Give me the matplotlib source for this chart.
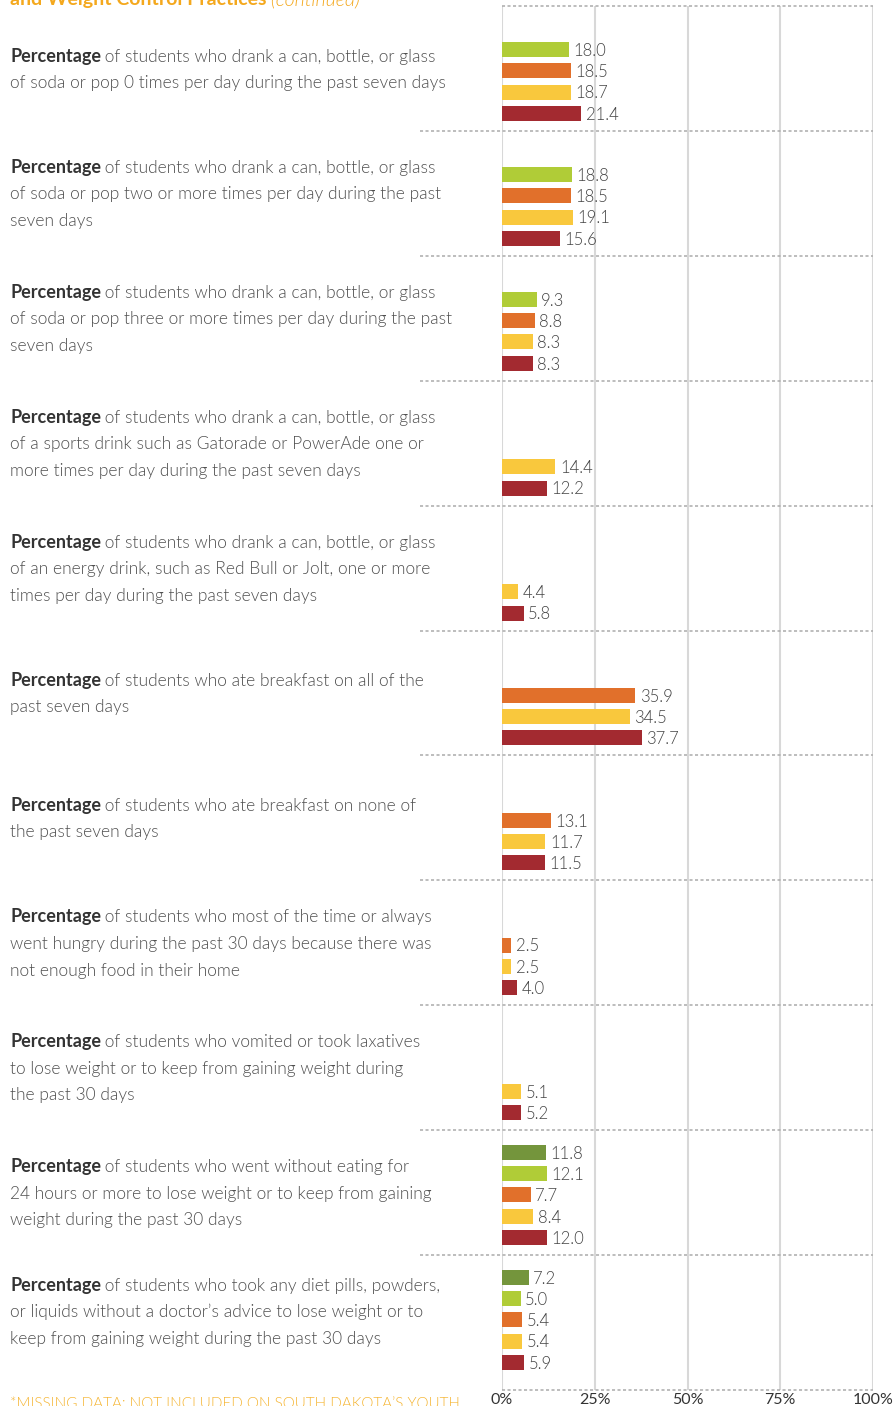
import matplotlib
matplotlib.use("Agg")
import matplotlib.pyplot as plt
import matplotlib.transforms as mtransforms

plt.rcParams['font.family'] = ['Lato', 'DejaVu Sans']

# one entry per question, each as the wrapped lines shown in the chart
labels = [
    ["Percentage of students who drank a can, bottle, or glass",
     "of soda or pop 0 times per day during the past seven days"],
    ["Percentage of students who drank a can, bottle, or glass",
     "of soda or pop two or more times per day during the past",
     "seven days"],
    ["Percentage of students who drank a can, bottle, or glass",
     "of soda or pop three or more times per day during the past",
     "seven days"],
    ["Percentage of students who drank a can, bottle, or glass",
     "of a sports drink such as Gatorade or PowerAde one or",
     "more times per day during the past seven days"],
    ["Percentage of students who drank a can, bottle, or glass",
     "of an energy drink, such as Red Bull or Jolt, one or more",
     "times per day during the past seven days"],
    ["Percentage of students who ate breakfast on all of the",
     "past seven days"],
    ["Percentage of students who ate breakfast on none of",
     "the past seven days"],
    ["Percentage of students who most of the time or always",
     "went hungry during the past 30 days because there was",
     "not enough food in their home"],
    ["Percentage of students who vomited or took laxatives",
     "to lose weight or to keep from gaining weight during",
     "the past 30 days"],
    ["Percentage of students who went without eating for",
     "24 hours or more to lose weight or to keep from gaining",
     "weight during the past 30 days"],
    ["Percentage of students who took any diet pills, powders,",
     "or liquids without a doctor\u2019s advice to lose weight or to",
     "keep from gaining weight during the past 30 days"],
]

# five survey series, oldest first (None = missing)
vals_1 = [None, None, None, None, None, None, None, None, None, 11.8, 7.2]
vals_2 = [18.0, 18.8, 9.3, None, None, None, None, None, None, 12.1, 5.0]
vals_3 = [18.5, 18.5, 8.8, None, None, 35.9, 13.1, 2.5, None, 7.7, 5.4]
vals_4 = [18.7, 19.1, 8.3, 14.4, 4.4, 34.5, 11.7, 2.5, 5.1, 8.4, 5.4]
vals_5 = [21.4, 15.6, 8.3, 12.2, 5.8, 37.7, 11.5, 4.0, 5.2, 12.0, 5.9]
series = [vals_1, vals_2, vals_3, vals_4, vals_5]
colors = ["#74953c", "#b0cc37", "#e1702b", "#f9c83d", "#a32a30"]

xticks = [0, 25, 50, 75, 100]
xticklabels = ["0%", "25%", "50%", "75%", "100%"]

title_bold = "and Weight Control Practices"
title_rest = " (continued)"
footnote = "*MISSING DATA: NOT INCLUDED ON SOUTH DAKOTA\u2019S YOUTH"

W, H = 894, 1406
top_px, bot_px = 6, 1390
fig = plt.figure(figsize=(W / 100, H / 100), dpi=100)
ax = fig.add_axes([502 / W, 1 - bot_px / H, 371 / W, (bot_px - top_px) / H])

n = len(labels)
sec_px = 124.9
ymax = (bot_px - top_px) / sec_px
slot_px = 21.3
bar_h = 15 / sec_px
LIGHT = 300

for j, vals in enumerate(series):
    for i, v in enumerate(vals):
        if v is None:
            continue
        y = i + 1 - (17.5 + slot_px * (4 - j)) / sec_px
        ax.barh(y, v, height=bar_h, color=colors[j], zorder=3)
        ax.annotate(f"{v:.1f}", (v, y), xytext=(3.2, -1), textcoords="offset points",
                    va="center", ha="left", fontsize=12, color="#444444",
                    fontweight=LIGHT, zorder=4)

ax.set_xlim(0, 100)
ax.set_ylim(ymax, 0)
ax.set_xticks(xticks)
ax.set_xticklabels(xticklabels, fontsize=11.5, color="#333333")
ax.tick_params(axis="x", length=0, pad=2)
ax.set_yticks([])
for s in ax.spines.values():
    s.set_visible(False)
ax.grid(axis="x", color="#d8d8d8", lw=1.5, zorder=0)

# dotted separators between questions
dash = (0, (2.0, 1.6))
ax.hlines(range(1, n), -22, 100, colors="#ababab", lw=1.1, linestyles=dash,
          clip_on=False, zorder=2)
ax.hlines([0, ymax], 0, 100, colors="#ababab", lw=1.1, linestyles=dash,
          clip_on=False, zorder=2)

# question texts on the left
trans = mtransforms.blended_transform_factory(fig.transFigure, ax.transData)
line_gap = 26.8 / sec_px
fs = 12.55
for i, lines in enumerate(labels):
    yc = i + 0.5 + 1 / sec_px
    if i == n - 1:
        yc = (1312 - top_px) / sec_px
    y0 = yc - line_gap * (len(lines) - 1) / 2
    for k, line in enumerate(lines):
        y = y0 + k * line_gap
        if k == 0:
            head = "Percentage"
            t = ax.text(10 / W, y, head, transform=trans, fontsize=13,
                        fontweight="bold", color="#333333", va="center",
                        ha="left", clip_on=False)
            ax.annotate(line[len(head):], xy=(1, 0), xycoords=t, va="bottom",
                        ha="left", xytext=(-0.8, 0), textcoords="offset points",
                        fontsize=fs, fontweight=LIGHT,
                        color="#505050", annotation_clip=False)
        else:
            ax.text(10 / W, y, line, transform=trans, fontsize=fs,
                    fontweight=LIGHT, color="#505050", va="center",
                    ha="left", clip_on=False)

# cut-off heading at top and footnote at bottom
tt = fig.text(10 / W, 1 - 5 / H, title_bold, fontsize=14, fontweight="bold",
              color="#f4a81d", va="baseline", ha="left")
plt.annotate(title_rest, xy=(1, 0), xycoords=tt, va="bottom", ha="left",
             fontsize=14, fontstyle="italic", fontweight=LIGHT,
             color="#f4a81d", annotation_clip=False)
fig.text(10 / W, -1.5 / H, footnote, fontsize=11, fontweight=LIGHT,
         color="#f5b430", va="baseline", ha="left")

fig.savefig("out.png", dpi=100)
